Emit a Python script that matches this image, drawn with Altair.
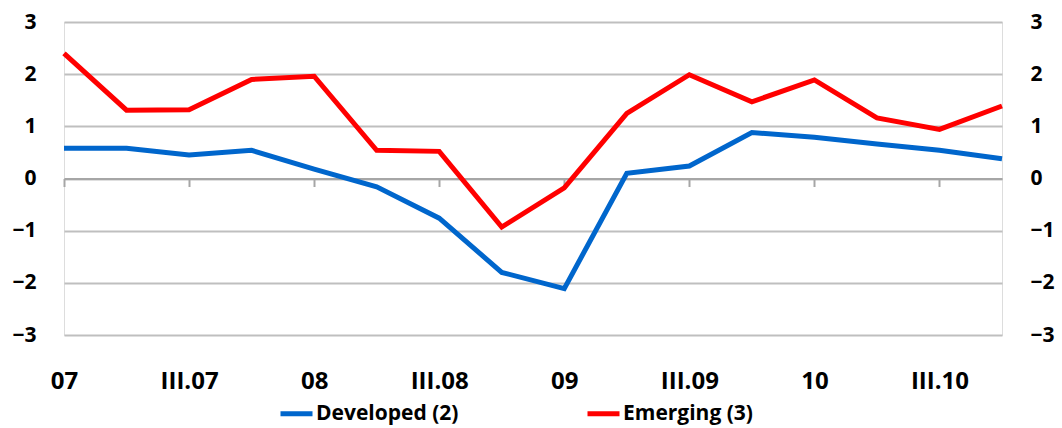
import altair as alt
import pandas as pd

# Quarterly series, 2007 Q1 to 2010 Q4
quarters = ["07", "II.07", "III.07", "IV.07", "08", "II.08", "III.08", "IV.08",
            "09", "II.09", "III.09", "IV.09", "10", "II.10", "III.10", "IV.10"]
developed = [0.58, 0.58, 0.45, 0.54, 0.18, -0.16, -0.76, -1.80,
             -2.11, 0.10, 0.24, 0.88, 0.79, 0.66, 0.54, 0.38]
emerging = [2.40, 1.31, 1.32, 1.90, 1.96, 0.54, 0.52, -0.93,
            -0.18, 1.25, 1.99, 1.47, 1.89, 1.16, 0.94, 1.39]
series_names = ["Developed (2)", "Emerging (3)"]
series_colors = ["#0066CC", "#FF0000"]
y_ticks = [-3, -2, -1, 0, 1, 2, 3]
x_labels = quarters[::2]

FONT = "Open Sans"
W, H = 938, 313

rows = []
for name, vals in zip(series_names, [developed, emerging]):
    for q, v in zip(quarters, vals):
        rows.append({"quarter": q, "value": v, "series": name})
df = pd.DataFrame(rows)

x_enc = alt.X(
    "quarter:O", sort=quarters,
    scale=alt.Scale(type="point", padding=0),
    axis=alt.Axis(
        values=x_labels, title=None, labelAngle=0, grid=False,
        offset=-H / 2,
        domainColor="#A6A6A6", domainWidth=2,
        tickColor="#A6A6A6", tickWidth=2, tickSize=8,
        labelFont=FONT, labelFontSize=24, labelFontWeight="bold",
        labelColor="#000000", labelPadding=183, labelBaseline="top",
    ),
)
y_scale = alt.Scale(domain=[-3, 3], nice=False, zero=False)

lines = alt.Chart(df).mark_line(strokeWidth=5, strokeJoin="miter").encode(
    x=x_enc,
    y=alt.Y("value:Q", scale=y_scale, axis=alt.Axis(
        values=y_ticks, format="d", title=None, orient="left",
        grid=True, gridColor="#BFBFBF", gridWidth=2,
        ticks=False, domain=False, labelPadding=28,
        labelFont=FONT, labelFontSize=21, labelFontWeight="bold",
        labelColor="#000000",
    )),
    color=alt.Color("series:N", scale=alt.Scale(domain=series_names, range=series_colors),
                    legend=alt.Legend(
                        orient="none", legendX=214, legendY=373,
                        direction="horizontal", title=None,
                        symbolType="stroke", symbolStrokeWidth=5, symbolSize=1024,
                        labelFont=FONT, labelFontSize=21, labelFontWeight="bold",
                        labelColor="#000000", labelOffset=1,
                        columnPadding=118, padding=0,
                    )),
    detail="series:N",
)

right_axis = alt.Chart(df).mark_line(opacity=0).encode(
    x=x_enc,
    y=alt.Y("value:Q", scale=y_scale, axis=alt.Axis(
        values=y_ticks, format="d", title=None, orient="right",
        grid=False, ticks=False, domain=False, labelPadding=28,
        labelAlign="left",
        labelFont=FONT, labelFontSize=21, labelFontWeight="bold",
        labelColor="#000000",
    )),
    detail="series:N",
)

chart = alt.layer(right_axis, lines).resolve_axis(y="independent").properties(
    width=W, height=H,
    padding={"left": 64, "top": 22, "right": 60, "bottom": 93},
    autosize="none",
).configure_view(stroke=None).configure(background="#FFFFFF")

chart.save("out.html", embed_options={"renderer": "svg", "actions": False})
